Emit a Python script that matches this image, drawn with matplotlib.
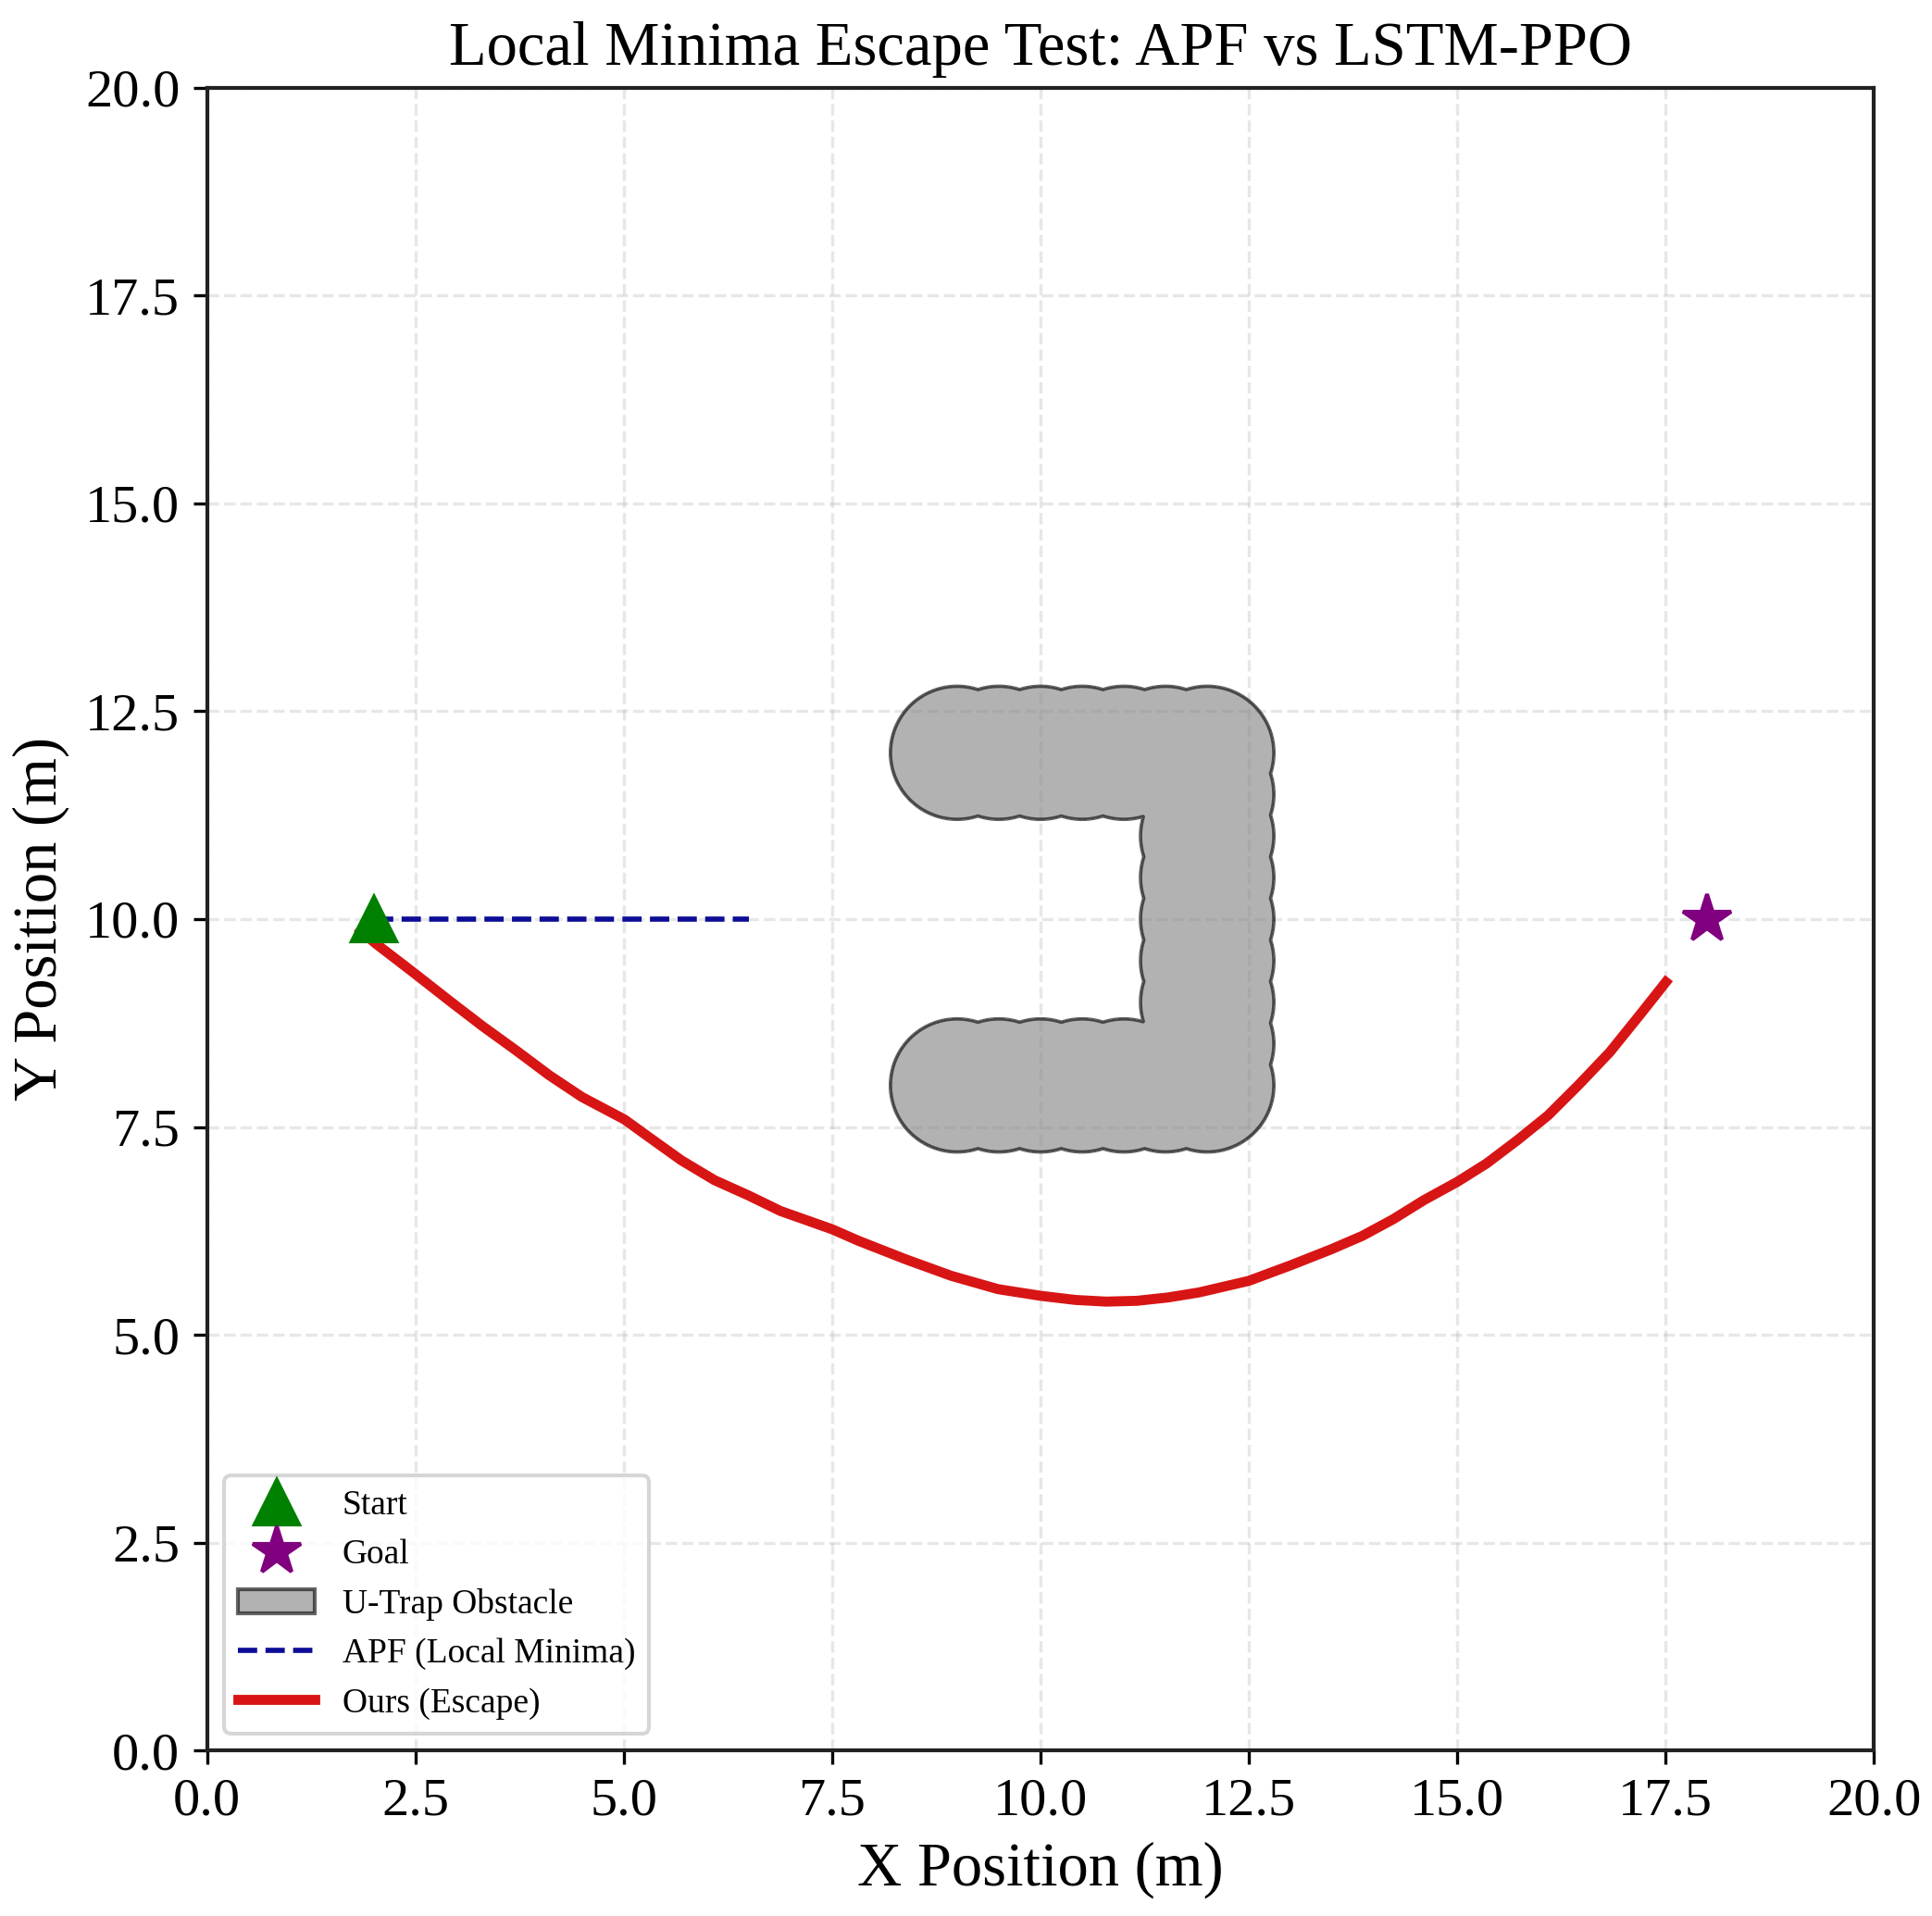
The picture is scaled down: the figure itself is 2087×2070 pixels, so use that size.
import numpy as np
import matplotlib
matplotlib.use("Agg")
import matplotlib.pyplot as plt
from matplotlib.patches import Patch
from matplotlib.lines import Line2D

plt.rcParams['font.family'] = ['Liberation Serif', 'DejaVu Serif']
plt.rcParams['mathtext.fontset'] = 'stix'

# ---------------- data ----------------
start_xy = (2.0, 10.0)
goal_xy = (18.0, 10.0)

# U-trap obstacle: union of circles
trap_radius = 0.8
trap_top_x = [9.0, 9.5, 10.0, 10.5, 11.0, 11.5, 12.0]
trap_top_y = [12.0] * 7
trap_bottom_x = [9.0, 9.5, 10.0, 10.5, 11.0, 11.5, 12.0]
trap_bottom_y = [8.0] * 7
trap_right_x = [12.0] * 9
trap_right_y = [8.0, 8.5, 9.0, 9.5, 10.0, 10.5, 11.0, 11.5, 12.0]

# APF trajectory (stuck in local minimum)
apf_x = [2.0, 6.5]
apf_y = [10.0, 10.0]

# Ours (escape) trajectory
ours_x = [1.8, 2.02, 2.5, 2.92, 3.31, 3.71, 4.11, 4.50, 5.01, 5.30, 5.69,
          6.09, 6.49, 6.88, 7.5, 7.82, 8.38, 8.93, 9.49, 10.0, 10.42, 10.79,
          11.16, 11.53, 11.90, 12.5, 13.01, 13.49, 13.86, 14.23, 14.60, 15.0,
          15.35, 15.72, 16.09, 16.46, 16.83, 17.20, 17.54]
ours_y = [9.9, 9.71, 9.34, 9.01, 8.71, 8.42, 8.12, 7.86, 7.59, 7.38, 7.10,
          6.86, 6.68, 6.49, 6.27, 6.13, 5.91, 5.71, 5.55, 5.47, 5.42, 5.40,
          5.41, 5.45, 5.51, 5.65, 5.84, 6.03, 6.19, 6.39, 6.62, 6.84,
          7.06, 7.34, 7.64, 8.01, 8.40, 8.86, 9.29]

title = "Local Minima Escape Test: APF vs LSTM-PPO"
xlabel = "X Position (m)"
ylabel = "Y Position (m)"

# ---------------- figure ----------------
DPI = 300
fig = plt.figure(figsize=(2087 / DPI, 2070 / DPI), dpi=DPI)
ax = fig.add_axes([0.1071, 0.0863, 0.8629, 0.868])

# obstacle as union of circles via distance field
cx = np.array(trap_top_x + trap_bottom_x + trap_right_x)
cy = np.array(trap_top_y + trap_bottom_y + trap_right_y)
gx = np.linspace(cx.min() - 1.5, cx.max() + 1.5, 1400)
gy = np.linspace(cy.min() - 1.5, cy.max() + 1.5, 1500)
GX, GY = np.meshgrid(gx, gy)
D = np.full(GX.shape, np.inf)
for px, py in zip(cx, cy):
    D = np.minimum(D, np.hypot(GX - px, GY - py))
D = D - trap_radius
ax.contourf(GX, GY, D, levels=[D.min() - 1, 0], colors=['gray'], alpha=0.6, zorder=2)
ax.contour(GX, GY, D, levels=[0], colors=['black'], alpha=0.6, linewidths=0.9, zorder=3)

ax.plot(apf_x, apf_y, linestyle='--', color='#0c0c96', linewidth=1.35, zorder=4)
ax.plot(ours_x, ours_y, linestyle='-', color='#d81515', linewidth=2.6, zorder=4,
        solid_capstyle='butt', solid_joinstyle='round')
ax.plot([start_xy[0]], [start_xy[1]], marker='^', color='green', markersize=11.5,
        linestyle='none', zorder=5)
ax.plot([goal_xy[0]], [goal_xy[1]], marker='*', color='purple', markersize=13,
        linestyle='none', zorder=5)

ax.set_xlim(0, 20)
ax.set_ylim(0, 20)
ax.set_xticks([0, 2.5, 5, 7.5, 10, 12.5, 15, 17.5, 20])
ax.set_yticks([0, 2.5, 5, 7.5, 10, 12.5, 15, 17.5, 20])
ax.xaxis.set_major_formatter(matplotlib.ticker.FormatStrFormatter('%.1f'))
ax.yaxis.set_major_formatter(matplotlib.ticker.FormatStrFormatter('%.1f'))
ax.tick_params(labelsize=14)
ax.grid(True, linestyle='--', alpha=0.3)
for s in ax.spines.values():
    s.set_linewidth(1.0)
    s.set_color('#222222')

ax.set_title(title, fontsize=16)
ax.set_xlabel(xlabel, fontsize=16)
ax.set_ylabel(ylabel, fontsize=16)

handles = [
    Line2D([], [], marker='^', color='green', markersize=11.5, linestyle='none'),
    Line2D([], [], marker='*', color='purple', markersize=13, linestyle='none'),
    Patch(facecolor='gray', edgecolor='black', alpha=0.6, linewidth=1.0),
    Line2D([], [], linestyle='--', color='#0c0c96', linewidth=1.35),
    Line2D([], [], linestyle='-', color='#d81515', linewidth=2.6),
]
labels = ["Start", "Goal", "U-Trap Obstacle", "APF (Local Minima)", "Ours (Escape)"]
ax.legend(handles, labels, loc='lower left', fontsize=9, handlelength=2.2)

fig.savefig("out.png", dpi=DPI)
